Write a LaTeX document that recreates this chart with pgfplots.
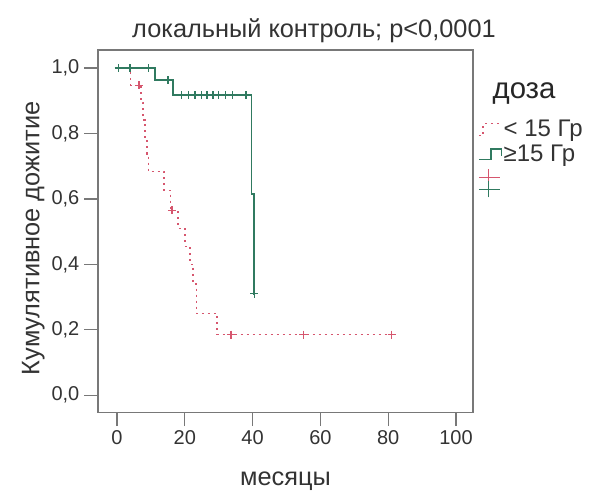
\documentclass[border=0pt]{standalone}
\usepackage{fontspec}
\setmainfont{Liberation Sans}
\usepackage{pgfplots}
\pgfplotsset{compat=1.18}
\definecolor{lowdose}{RGB}{214,86,110}
\definecolor{highdose}{RGB}{48,122,96}
\definecolor{frame}{RGB}{120,120,120}
\pgfplotsset{
    lowleg/.style={legend image code/.code={\draw[##1] (0pt,-5pt)--(3pt,-5pt)--(3pt,4pt)--(16pt,4pt);}},
    highleg/.style={legend image code/.code={\draw[##1] (0pt,-4pt)--(9pt,-4pt)--(9pt,4pt)--(17pt,4pt)--(17pt,-1pt);}},
    censleg/.style={legend image code/.code={
        \draw[lowdose, line width=1pt] (0pt,4pt)--(16pt,4pt) (7pt,-2pt)--(7pt,10pt);
        \draw[highdose, line width=1pt] (0pt,-5pt)--(16pt,-5pt) (7pt,-11pt)--(7pt,1pt);}},
}

\begin{document}
\begin{tikzpicture}
\begin{axis}[
    name=km,
    scale only axis,
    width=281pt, height=271.5pt,
    xmin=-5.6, xmax=105,
    ymin=-0.052, ymax=1.055,
    xtick={0,20,40,60,80,100},
    ytick={0,0.2,0.4,0.6,0.8,1.0},
    yticklabel style={/pgf/number format/.cd,fixed,fixed zerofill,precision=1,use comma},
    /pgf/number format/assume math mode=true,
    tick align=outside,
    xtick pos=bottom, ytick pos=left,
    major tick length=10.5pt,
    tick style={frame, line width=1pt},
    axis line style={frame, line width=1pt},
    tick label style={font=\fontsize{15}{17}\selectfont, text=black!80},
    xlabel={месяцы},
    ylabel={Кумулятивное дожитие},
    label style={font=\fontsize{19}{22}\selectfont, text=black!80},
    xlabel style={at={(rel axis cs:0.5,-0.19)}, anchor=center},
    ylabel style={at={(rel axis cs:-0.173,0.48)}, anchor=center},
    legend style={at={(1.013,0.812)}, anchor=north west, draw=none, fill=none,
        font=\fontsize{18}{20}\selectfont, text=black!80,
        inner sep=0pt, nodes={inner sep=1pt}, row sep=3pt,
        /tikz/column 2/.style={column sep=0pt}},
    legend cell align=left,
    clip=false,
]

% < 15 Гр
\addplot[const plot, lowdose, line width=1.2pt, dash pattern=on 1.5pt off 3pt, lowleg]
coordinates{
    (0,1) (4,0.947) (7,0.895) (7.6,0.842) (8.2,0.789) (8.8,0.737) (9.3,0.684)
    (13.8,0.626) (15.8,0.565) (18,0.51) (20,0.455) (21.5,0.40) (22.5,0.34)
    (23.5,0.25) (29.5,0.185) (81,0.185)
};
\addlegendentry{< 15 Гр}

% >= 15 Гр
\addplot[const plot, highdose, line width=1.2pt, highleg]
coordinates{
    (0,1) (11.2,0.963) (16.6,0.917) (39.7,0.615) (40.4,0.31) (40.6,0.31)
};
\addlegendentry{≥15 Гр}

% censored
\addplot[only marks, mark=+, mark size=3pt, lowdose, line width=1pt, forget plot]
coordinates{
    (6.5,0.947) (16.2,0.565) (33.6,0.185) (55,0.185) (81,0.185)
};
\addplot[only marks, mark=+, mark size=3pt, highdose, line width=1pt, censleg]
coordinates{
    (0.5,1) (3.8,1) (9.2,1) (15,0.963) (19,0.917) (21,0.917) (23,0.917)
    (25,0.917) (26.5,0.917) (28.3,0.917) (30,0.917) (32,0.917) (34,0.917)
    (38,0.917) (40.5,0.31)
};
\addlegendentry{}

\node[anchor=center, font=\fontsize{19}{22}\selectfont, text=black!80]
    at (rel axis cs:0.576,1.052) {локальный контроль; p<0,0001};
\node[anchor=west, font=\fontsize{22}{24}\selectfont, text=black!85]
    at (rel axis cs:1.04,0.88) {доза};
\end{axis}
\pgfresetboundingbox
\path[use as bounding box] ([shift={(-73.5pt,-59.25pt)}]km.south west)
    rectangle ([shift={(95.25pt,37.5pt)}]km.north east);
\end{tikzpicture}
\end{document}
